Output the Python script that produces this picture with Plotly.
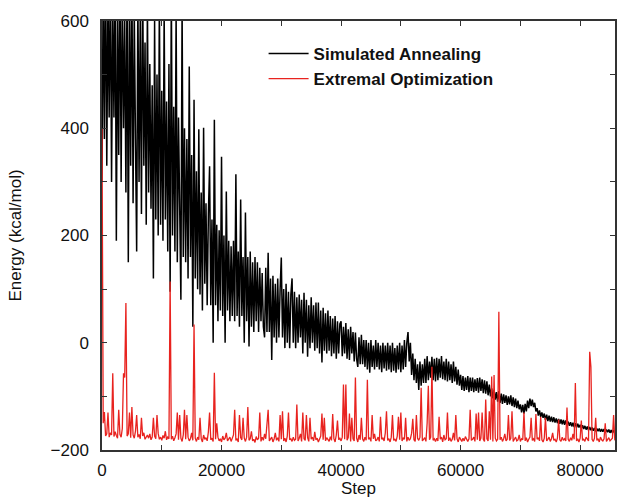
import plotly.graph_objects as go

# Step axis: one sample every 200 steps
step_interval = 200

# Simulated Annealing energy (kcal/mol)
sa_energy = [
    300, 680, 380, 720, 330, 650, 420, 700, 300, 640,
    420, 690, 190, 620, 350, 720, 300, 660, 400, 600,
    280, 700, 150, 640, 330, 690, 260, 620, 380, 170,
    650, 300, 610, 240, 690, 330, 560, 220, 630, 280,
    520, 250, 480, 120, 600, 230, 500, 200, 640, 220,
    470, 190, 620, 230, 450, 170, 520, 95, 660, 200,
    440, 170, 620, 150, 420, 200, 80, 630, 160, 400,
    150, 380, 120, 515, 160, 350, 30, 453, 120, 320,
    100, 398, 90, 280, 60, 401, 110, 260, 70, 240,
    329, 70, 230, 0, 416, 70, 220, 40, 210, 60,
    347, 50, 200, 0, 282, 60, 190, 40, 180, 50,
    190, 40, 314, 50, 170, 30, 267, 50, 160, 0,
    243, 40, 160, -7, 170, 30, 150, 20, 160, 40,
    150, 20, 140, 40, 130, 30, 10, 140, 20, 168,
    20, 120, -32, 125, 10, 110, 0, 120, 10, 100,
    159, 10, 100, -10, 110, 0, 95, -10, 90, 120,
    0, 95, -10, 85, 0, 90, 10, 80, -20, 93,
    0, 80, -26, 70, -10, 85, 0, 70, -15, 75,
    -10, 75, -20, 60, -37, 65, -15, 55, -20, 60,
    -15, 50, -25, 45, -20, 50, -30, 40, -20, 35,
    40, -25, 30, -20, 37, -30, 25, -32, 30, -20,
    20, -35, 19, -30, -45, 10, -40, 15, -40, 5,
    -45, 5, -50, 0, -56, 5, -45, -5, -50, 5,
    -45, 0, -50, -5, -55, 0, -48, -5, -52, 0,
    -50, -5, -55, 0, -52, -10, -56, -5, -50, 0,
    -55, -5, -50, 5, -45, 0, 20, -35, 0, -60,
    -20, -70, -30, -75, -40, -88, -35, -80, -40, -75,
    -30, -75, -25, -70, -35, -65, -26, -70, -30, -72,
    -28, -70, -30, -65, -25, -68, -35, -70, -30, -72,
    -35, -70, -40, -75, -35, -72, -45, -78, -50, -80,
    -60, -88, -62, -90, -65, -88, -62, -92, -65, -90,
    -65, -92, -68, -90, -66, -93, -65, -90, -68, -94,
    -70, -95, -72, -98, -78, -100, -85, -104, -88, -106,
    -92, -110, -90, -112, -95, -114, -96, -112, -98, -116,
    -100, -115, -98, -118, -102, -120, -104, -122, -108, -124,
    -115, -130, -116, -132, -114, -128, -108, -122, -104, -118,
    -106, -120, -112, -128, -122, -136, -126, -138, -130, -140,
    -132, -144, -134, -146, -136, -147, -138, -148, -139, -149,
    -141, -150, -142, -151, -143, -152, -144, -153, -145, -154,
    -147, -155, -148, -156, -149, -157, -150, -158, -151, -158,
    -153, -160, -154, -161, -155, -162, -156, -163, -157, -163,
    -158, -164, -159, -165, -160, -165, -160, -166, -161, -166,
    -161, -167, -162, -167, -162, -168, -163, -168, -163, -168,
]

# Extremal Optimization energy (kcal/mol)
eo_energy = [
    400, -150, -129, -174, -170, -130, -176, -168, -172, -57,
    -175, -166, -173, -178, -125, -171, -176, -160, -57, -65,
    74, -174, -170, -130, -177, -120, -172, -178, -165, -135,
    -176, -171, -179, -140, -174, -168, -180, -175, -172, -178,
    -170, -181, -176, -140, -174, -179, -135, -169, -180, -176,
    -182, -173, -178, -165, -181, -176, -179, 114, -180, -174,
    -183, -177, -170, -130, -181, -135, -178, -184, -172, -125,
    -180, -135, -176, -183, -179, -168, -182, 34, -178, -184,
    -176, -181, -140, -179, -185, -172, -180, -177, -183, -166,
    -130, -181, -178, -184, -56, -180, -150, -176, -183, -179,
    -185, -174, -181, -178, -168, -183, -180, -176, -184, -179,
    -172, -125, -182, -179, -185, -135, -177, -181, -140, -178,
    -184, -176, -120, -182, -179, -165, -183, -180, -186, -175,
    -181, -178, -130, -184, -176, -182, -170, -179, -140, -125,
    -183, -180, -176, -185, -179, -168, -182, -177, -184, -135,
    -180, -128, -183, -178, -185, -174, -130, -181, -179, -184,
    -176, -182, -180, -115, -183, -178, -170, -184, -130, -179,
    -182, -135, -177, -184, -140, -180, -176, -183, -166, -181,
    -178, -185, -179, -174, -132, -181, -140, -183, -177, -180,
    -184, -175, -182, -133, -179, -185, -172, -145, -181, -178,
    -183, -176, -78, -180, -78, -182, -177, -132, -184, -140,
    -179, -183, -65, -178, -185, -172, -181, -140, -179, -184,
    -176, -182, -69, -180, -177, -184, -135, -179, -170, -183,
    -181, -176, -184, -138, -180, -178, -183, -168, -128, -182,
    -179, -185, -176, -135, -182, -180, -184, -174, -138, -181,
    -130, -183, -178, -180, -140, -184, -176, -182, -179, -169,
    -142, -181, -184, -135, -178, -182, -176, -84, -183, -180,
    -177, -184, -150, -80, -181, -176, -45, -182, -179, -184,
    -178, -183, -138, -180, -176, -185, -172, -181, -179, -130,
    -183, -177, -184, -180, -168, -182, -135, -179, -185, -176,
    -181, -184, -178, -183, -175, -180, -184, -179, -125, -182,
    -180, -176, -184, -132, -181, -130, -183, -178, -130, -180,
    -184, -106, -179, -183, -128, -181, -63, -184, -60, -178,
    -183, -180, 58, -181, -176, -184, -179, -170, -183, -180,
    -135, -182, -178, -128, -184, -180, -176, -183, -181, -172,
    -184, -179, -181, -130, -183, -177, -185, -180, -176, -140,
    -182, -179, -184, -133, -180, -177, -183, -138, -181, -185,
    -178, -140, -183, -180, -176, -184, -179, -168, -182, -180,
    -185, -178, -143, -181, -184, -176, -182, -179, -183, -121,
    -180, -184, -177, -182, -170, -180, -75, -183, -179, -185,
    -178, -145, -182, -180, -184, -176, -181, -183, -17, -45,
    -180, -184, -178, -140, -182, -179, -185, -176, -181, -183,
    -179, -150, -184, -180, -177, -183, -181, -178, -135, -182,
]

sa_steps = [i * step_interval for i in range(len(sa_energy))]
eo_steps = [i * step_interval for i in range(len(eo_energy))]

series_names = ["Simulated Annealing", "Extremal Optimization"]
x_tick_values = [0, 20000, 40000, 60000, 80000]
y_tick_values = [-200, 0, 200, 400, 600]

FONT = "Liberation Sans, Arial, Helvetica, sans-serif"

fig = go.Figure()
fig.add_trace(go.Scatter(x=sa_steps, y=sa_energy, mode="lines", name=series_names[0],
                         line=dict(color="#000000", width=1.5)))
fig.add_trace(go.Scatter(x=eo_steps, y=eo_energy, mode="lines", name=series_names[1],
                         line=dict(color="#e8231f", width=1.3)))

axis_common = dict(
    showline=True, linecolor="#333333", linewidth=1.5, mirror="ticks",
    ticks="inside", ticklen=5, tickwidth=1, tickcolor="#333333",
    showgrid=False, zeroline=False,
    tickfont=dict(family=FONT, size=17, color="#111111"),
)

fig.update_layout(
    width=617, height=498,
    margin=dict(l=102, r=0, t=21, b=48),
    paper_bgcolor="white", plot_bgcolor="white",
    font=dict(family=FONT, size=17, color="#111111"),
    showlegend=True,
    legend=dict(
        x=0.315, y=0.965, xanchor="left", yanchor="top",
        bgcolor="rgba(0,0,0,0)", borderwidth=0,
        font=dict(family=FONT, size=17, color="#111111", weight="bold"),
        tracegroupgap=0, itemwidth=40,
    ),
    xaxis=dict(
        range=[0, 85833], tickvals=x_tick_values,
        ticktext=[str(v) for v in x_tick_values],
        minor=dict(dtick=10000, ticks="inside", ticklen=5, tickcolor="#333333"),
        title=dict(text="Step", standoff=6, font=dict(family=FONT, size=17)),
        ticklabelstandoff=4,
        **axis_common,
    ),
    yaxis=dict(
        range=[-200, 600], tickvals=y_tick_values,
        minor=dict(dtick=100, ticks="inside", ticklen=5, tickcolor="#333333"),
        title=dict(text="Energy (kcal/mol)", standoff=25, font=dict(family=FONT, size=17)),
        ticklabelstandoff=8,
        **axis_common,
    ),
)

fig.write_html("out.html")
